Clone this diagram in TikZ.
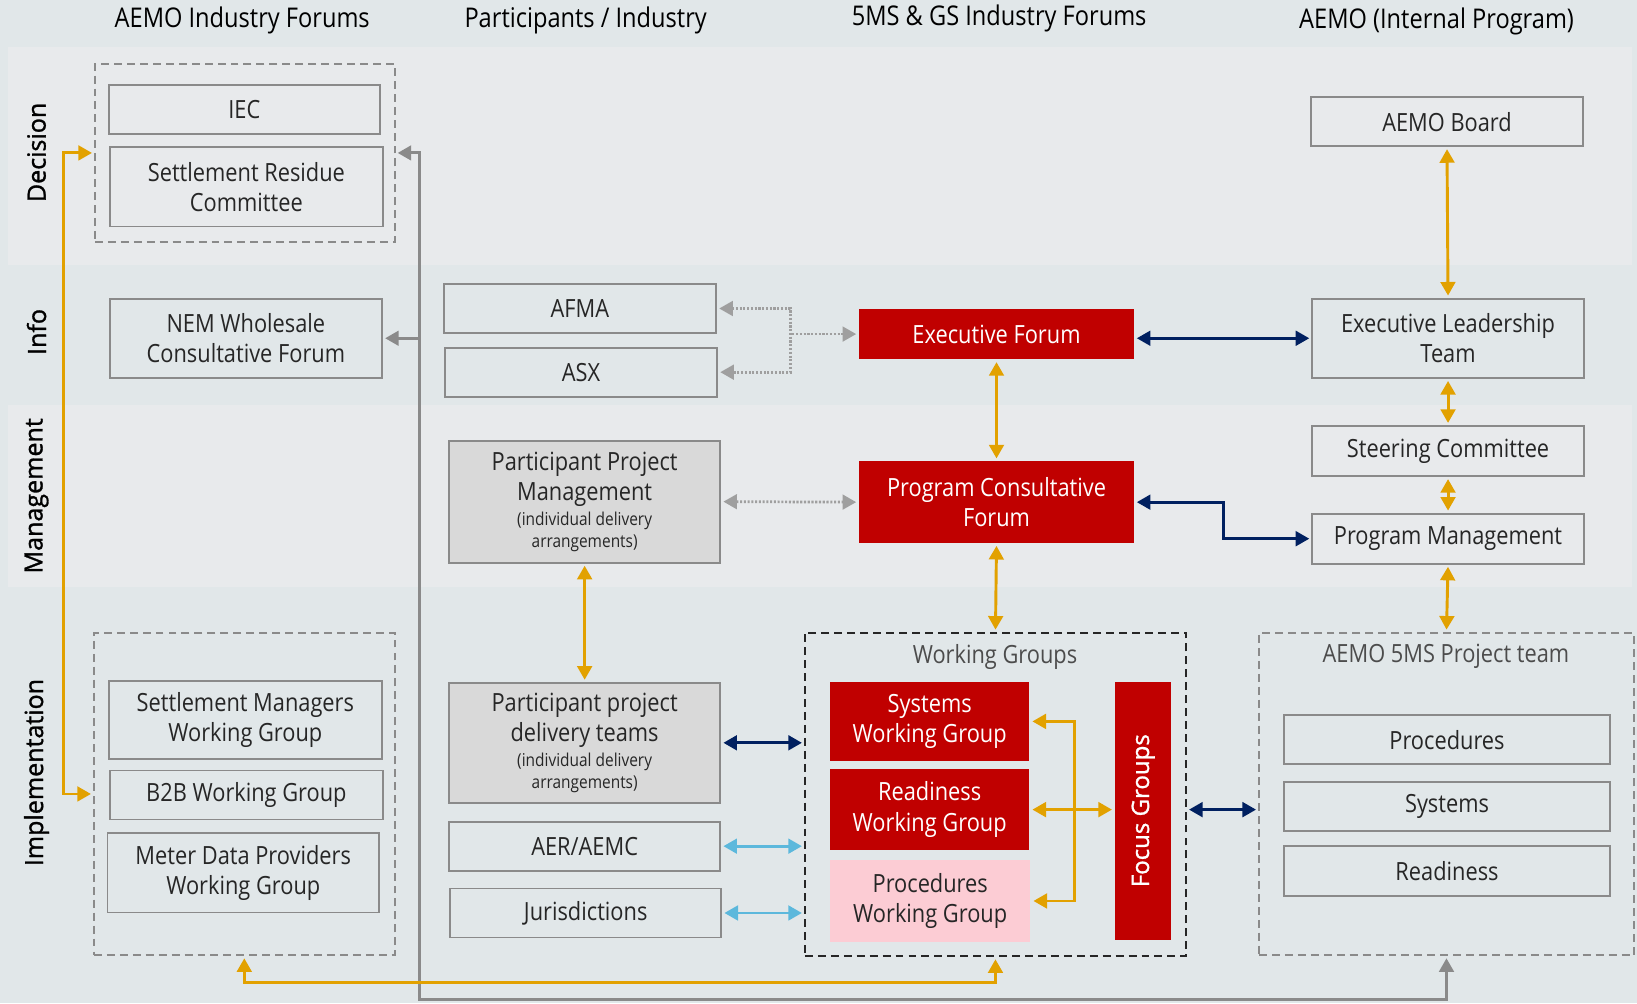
\documentclass[tikz,border=0pt]{standalone}
\usepackage{fontspec}
\setmainfont{Open Sans}[FakeStretch=0.87]
\newfontfamily\rowfont{Open Sans}[BoldFont={Open Sans}, BoldFeatures={FakeBold=1.2}]
\usetikzlibrary{arrows.meta}
\definecolor{bgblue}{RGB}{225,231,233}
\definecolor{bandgrey}{RGB}{232,234,236}
\definecolor{linegrey}{RGB}{138,138,138}
\definecolor{fillgrey}{RGB}{217,217,217}
\definecolor{aemored}{RGB}{192,0,0}
\definecolor{aemopink}{RGB}{252,204,212}
\definecolor{aemoorange}{RGB}{226,161,0}
\definecolor{aemonavy}{RGB}{0,32,96}
\definecolor{aemoblue}{RGB}{92,184,220}
\newcommand{\notefont}{\fontsize{8.5}{10.5}\selectfont}

\begin{document}
\begin{tikzpicture}[x=0.5pt, y=-0.5pt, >={Triangle[length=6.5pt,width=7pt]},
    boxsize/.style 2 args={minimum width=#1*0.5pt, minimum height=#2*0.5pt},
    box/.style={draw=linegrey, line width=0.9pt, align=center, inner sep=1pt, text=black!85, font=\fontsize{12}{14.5}\selectfont},
    greybox/.style={box, fill=fillgrey},
    redbox/.style={box, draw=none, fill=aemored, text=white},
    pinkbox/.style={box, draw=none, fill=aemopink},
    dashbox/.style={draw=linegrey, line width=0.9pt, dash pattern=on 3.8pt off 2.4pt},
    head/.style={font=\fontsize{13}{15}\selectfont, text=black},
    rowlab/.style={rotate=90, font=\rowfont\bfseries\fontsize{12}{14}\selectfont, text=black},
    grouptitle/.style={font=\fontsize{12}{14}\selectfont, text=black!70},
    orangeline/.style={aemoorange, line width=1.4pt, <->, shorten <=1pt, shorten >=1pt},
    navyline/.style={aemonavy, line width=1.4pt, <->, shorten <=1pt, shorten >=1pt},
    blueline/.style={aemoblue, line width=1.4pt, <->, shorten <=1pt, shorten >=1pt},
    greyline/.style={linegrey, line width=1.4pt, shorten <=1pt, shorten >=1pt},
    dotline/.style={gray!75, line width=1.3pt, dash pattern=on 1pt off 0.8pt, shorten <=1pt, shorten >=1pt}]
    \useasboundingbox (0,0) rectangle (1568,961);
    \fill[bgblue] (0,0) rectangle (1568,961);
    \fill[bandgrey] (8,45) rectangle (1563,254);
    \fill[bandgrey] (8,388) rectangle (1563,562);

    \node[head] (h1) at (232,20) {AEMO Industry Forums};
    \node[head] (h2) at (561,20) {Participants / Industry};
    \node[head] (h3) at (957,18) {5MS \& GS Industry Forums};
    \node[head] (h4) at (1376,21) {AEMO (Internal Program)};

    \node[rowlab] (r1) at (35,146) {Decision};
    \node[rowlab] (r2) at (35,318) {Info};
    \node[rowlab] (r3) at (35,475) {Management};
    \node[rowlab] (r4) at (35,740) {Implementation};

    \node[dashbox, boxsize={287}{171}] (aif) at (234.5,146.5) {};
    \node[box, boxsize={260}{47}] (iec) at (234,105) {IEC};
    \node[box, boxsize={262}{76}] (src) at (236,179) {Settlement Residue\\Committee};
    \node[box, boxsize={261}{76}] (nem) at (235.5,324) {NEM Wholesale\\Consultative Forum};
    \node[dashbox, boxsize={288}{309}] (imp) at (234,760.5) {};
    \node[box, boxsize={262}{75}] (smwg) at (235,689.5) {Settlement Managers\\Working Group};
    \node[box, boxsize={262}{47}] (b2b) at (236,761.5) {B2B Working Group};
    \node[box, boxsize={260}{76}] (mdp) at (233,836) {Meter Data Providers\\Working Group};

    \node[box, boxsize={261}{47}] (afma) at (555.5,295.5) {AFMA};
    \node[box, boxsize={261}{47}] (asx) at (556.5,356.5) {ASX};
    \node[greybox, boxsize={260}{117}] (ppm) at (560,480.5) {Participant Project\\Management\\[-2.5pt]\notefont (individual delivery\\[-4pt]\notefont arrangements)};
    \node[greybox, boxsize={260}{115}] (ppdt) at (560,711.5) {Participant project\\delivery teams\\[-2.5pt]\notefont (individual delivery\\[-4pt]\notefont arrangements)};
    \node[box, boxsize={260}{47}] (aer) at (560,810.5) {AER/AEMC};
    \node[box, boxsize={260}{47}] (jur) at (561,874.5) {Jurisdictions};

    \node[redbox, boxsize={263}{48}] (ef) at (954.5,320) {Executive Forum};
    \node[redbox, boxsize={263}{78}] (pcf) at (954.5,481) {Program Consultative\\Forum};
    \node[dashbox, draw=black!85, boxsize={365}{310}] (wg) at (953.5,761) {};
    \node[grouptitle] (wgtitle) at (953,629) {Working Groups};
    \node[redbox, boxsize={191}{76}] (swg) at (890.5,691) {Systems\\Working Group};
    \node[redbox, boxsize={191}{77}] (rwg) at (890.5,775.5) {Readiness\\Working Group};
    \node[pinkbox, boxsize={192}{78}] (pwg) at (891,863) {Procedures\\Working Group};
    \node[redbox, boxsize={54}{247}, label={[rotate=90, text=white, font=\rowfont\bfseries\fontsize{11.5}{13}\selectfont]center:Focus Groups}] (fg) at (1095,776.5) {};

    \node[box, boxsize={260}{47}] (board) at (1386,116.5) {AEMO Board};
    \node[box, boxsize={260}{76}] (elt) at (1387,324) {Executive Leadership\\Team};
    \node[box, boxsize={260}{48}] (sc) at (1387,432) {Steering Committee};
    \node[box, boxsize={260}{48}] (pm) at (1387,516) {Program Management};
    \node[dashbox, boxsize={359}{309}] (team) at (1385.5,760.5) {};
    \node[grouptitle] (teamtitle) at (1385,629) {AEMO 5MS Project team};
    \node[box, boxsize={312}{47}] (proc) at (1386,708.5) {Procedures};
    \node[box, boxsize={312}{47}] (sys) at (1386,772.5) {Systems};
    \node[box, boxsize={312}{48}] (rdy) at (1386,834) {Readiness};

    \coordinate (gbus) at (402,957);
    \draw[greyline, <->] (team.south) |- (gbus) -- (gbus |- aif.east) -- (aif.east);
    \draw[greyline, ->] (gbus |- nem.east) -- (nem.east);
    \draw[orangeline] (aif.west) -- ++(-29,0) |- (imp.west);
    \draw[orangeline] (imp.south) -- ++(0,25) -| (wg.south);

    \coordinate (dsplit) at (757,320);
    \draw[dotline, <->] (afma.east) -| (dsplit) |- (asx.east);
    \draw[dotline, ->] (dsplit) -- (ef.west);
    \draw[dotline, <->] (ppm.east) -- (pcf.west);
    \draw[orangeline] (ppm.south) -- (ppdt.north);
    \draw[navyline] (ppdt.east) -- (ppdt.east -| wg.west);
    \draw[blueline] (aer.east) -- (aer.east -| wg.west);
    \draw[blueline] (jur.east) -- (jur.east -| wg.west);

    \draw[orangeline] (ef.south) -- (pcf.north);
    \draw[orangeline] (pcf.south) -- (wg.north);
    \draw[orangeline] (swg.east) -| (1029,776) |- (pwg.east);
    \draw[orangeline] (rwg.east) -- (rwg.east -| fg.west);
    \draw[navyline] (wg.east |- rwg.east) -- (team.west |- rwg.east);

    \draw[navyline] (ef.east |- elt.west) -- (elt.west);
    \draw[navyline] (pcf.east) -- ++(85,0) |- (pm.west);
    \draw[orangeline] (board.south) -- (elt.north);
    \draw[orangeline] (elt.south) -- (sc.north);
    \draw[orangeline] (sc.south) -- (pm.north);
    \draw[orangeline] (pm.south) -- (team.north);
\end{tikzpicture}
\end{document}
